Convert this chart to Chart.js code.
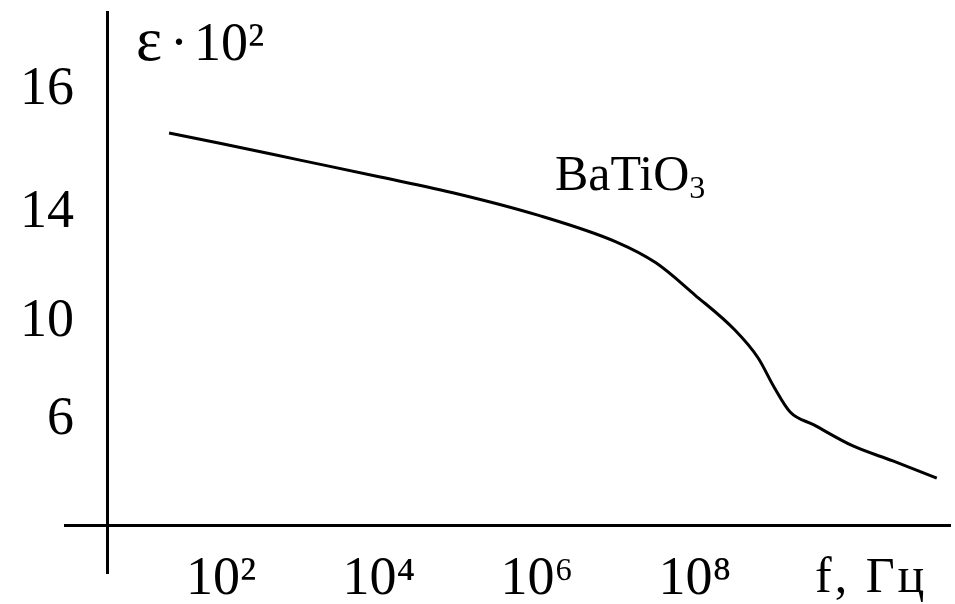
<!DOCTYPE html>
<html>
<head>
<meta charset="utf-8">
<script src="https://cdn.jsdelivr.net/npm/chart.js@4.4.1/dist/chart.umd.min.js"></script>
<style>
  html, body { margin: 0; padding: 0; background: #ffffff; }
  #wrap { width: 955px; height: 604px; position: relative; }
</style>
</head>
<body>
<div id="wrap"><canvas id="c" width="955" height="604"></canvas></div>
<script>
// ---- data ----
// frequency, Hz
const freqHz = [2.2e1, 1e2, 1e3, 1e4, 1e5, 1e6, 1e7, 3.2e7, 1e8, 3.2e8, 6.3e8, 1e9, 1.6e9, 3.2e9, 1e10, 3.2e10, 1.15e11];
// permittivity, epsilon * 10^-2
const epsBaTiO3 = [15.30, 15.13, 14.86, 14.59, 14.31, 13.93, 12.94, 12.17, 10.99, 9.67, 8.53, 7.35, 6.33, 5.80, 4.94, 4.33, 3.63];
// x tick labels (powers of ten)
const xTickExp = [2, 4, 6, 8];
// y tick labels (the original axis is not linear in epsilon)
const yTickEps = [6, 10, 14, 16];
const yTickLevel = [1.05, 2.03, 3.12, 4.35];
const seriesName = 'BaTiO';
const seriesSub = '3';
const yTitleSym = 'ε';
const yTitleRest = '10²';
const xTitle = 'f, Гц';

// map epsilon onto the (piecewise) axis used in the original drawing
function epsToLevel(e) {
  const n = yTickEps.length;
  let i = 0;
  if (e <= yTickEps[0]) i = 0;
  else if (e >= yTickEps[n - 1]) i = n - 2;
  else { while (e > yTickEps[i + 1]) i++; }
  const t = (e - yTickEps[i]) / (yTickEps[i + 1] - yTickEps[i]);
  return yTickLevel[i] + t * (yTickLevel[i + 1] - yTickLevel[i]);
}

const SUP = {'0':'⁰','1':'¹','2':'²','3':'³','4':'⁴','5':'⁵','6':'⁶','7':'⁷','8':'⁸','9':'⁹'};
const sup = n => String(n).split('').map(c => SUP[c]).join('');

const points = freqHz.map((f, i) => ({ x: f, y: epsToLevel(epsBaTiO3[i]) }));

const FONT = "'Liberation Serif', 'Times New Roman', serif";

const zeroPad = s => { s.paddingTop = 0; s.paddingBottom = 0; s.paddingLeft = 0; s.paddingRight = 0; };

const textPlugin = {
  id: 'labels',
  afterDraw(chart) {
    const ctx = chart.ctx;
    ctx.save();
    ctx.fillStyle = '#000';
    ctx.textBaseline = 'alphabetic';
    ctx.textAlign = 'left';
    // y axis title
    ctx.font = `62px ${FONT}`;
    ctx.fillText(yTitleSym, 136, 60);
    ctx.font = `54px ${FONT}`;
    ctx.fillText('·', 170, 60);
    ctx.fillText(yTitleRest, 194, 60);
    // series label
    ctx.font = `50px ${FONT}`;
    ctx.fillText(seriesName, 555, 190);
    const w = ctx.measureText(seriesName).width;
    ctx.font = `32px ${FONT}`;
    ctx.fillText(seriesSub, 555 + w, 198);
    // x axis title
    ctx.font = `50px ${FONT}`;
    ctx.letterSpacing = '3px';
    ctx.fillText(xTitle, 815, 592);
    ctx.restore();
  }
};

const YMIN = -0.48, YMAX = 5.13;

new Chart(document.getElementById('c'), {
  type: 'line',
  data: {
    datasets: [{
      label: seriesName + seriesSub,
      data: points,
      borderColor: '#000000',
      borderWidth: 3,
      pointRadius: 0,
      fill: false,
      cubicInterpolationMode: 'monotone'
    }]
  },
  options: {
    responsive: false,
    animation: false,
    events: [],
    layout: { padding: { left: 65, right: 5, top: 12, bottom: 31 } },
    plugins: { legend: { display: false }, tooltip: { enabled: false }, title: { display: false } },
    scales: {
      x: {
        type: 'logarithmic',
        min: Math.pow(10, 0.025),
        max: Math.pow(10, 11.228),
        bounds: 'data',
        position: { y: 0 },
        grid: { display: false, drawTicks: false },
        border: { display: true, color: '#000', width: 3 },
        afterFit: zeroPad,
        afterBuildTicks: s => { s.ticks = xTickExp.map(e => ({ value: Math.pow(10, e) })); },
        ticks: {
          autoSkip: false,
          maxRotation: 0,
          padding: 22,
          color: '#000',
          font: { family: FONT, size: 54 },
          callback: v => '10' + sup(Math.round(Math.log10(v)))
        }
      },
      y: {
        type: 'linear',
        min: YMIN,
        max: YMAX,
        position: { x: Math.pow(10, 0.557) },
        grid: { display: false, drawTicks: false },
        border: { display: true, color: '#000', width: 3 },
        afterFit: zeroPad,
        ticks: { display: false }
      },
      yLabels: {
        type: 'linear',
        axis: 'y',
        min: YMIN,
        max: YMAX,
        position: { x: Math.pow(10, 0.139) },
        grid: { display: false, drawTicks: false },
        border: { display: false },
        afterFit: zeroPad,
        afterBuildTicks: s => { s.ticks = yTickLevel.map(v => ({ value: v })); },
        ticks: {
          autoSkip: false,
          padding: 0,
          color: '#000',
          font: { family: FONT, size: 54 },
          callback: (v, i) => String(yTickEps[i])
        }
      }
    }
  },
  plugins: [textPlugin]
});
</script>
</body>
</html>
